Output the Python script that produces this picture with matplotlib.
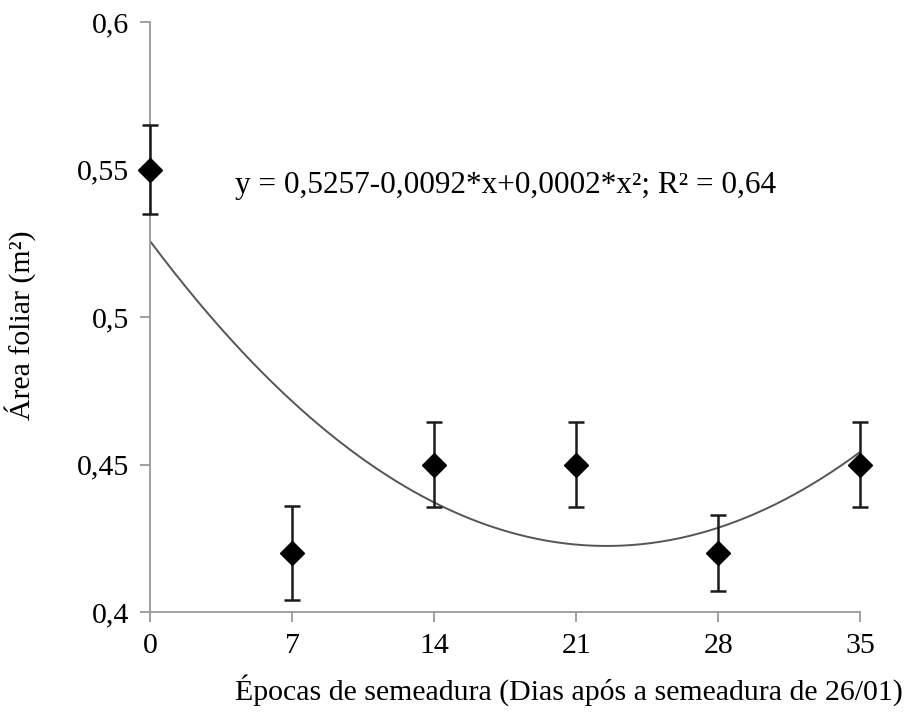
import numpy as np
import matplotlib
matplotlib.use("Agg")
import matplotlib.pyplot as plt

# Data
epocas = [0, 7, 14, 21, 28, 35]
area_foliar = [0.55, 0.42, 0.45, 0.45, 0.42, 0.45]
erro = [0.015, 0.016, 0.0145, 0.0145, 0.013, 0.0143]
y_ticks = [0.4, 0.45, 0.5, 0.55, 0.6]
y_tick_labels = ["0,4", "0,45", "0,5", "0,55", "0,6"]
x_ticks = [0, 7, 14, 21, 28, 35]
equacao = "y = 0,5257-0,0092*x+0,0002*x²; R² = 0,64"

plt.rcParams['font.family'] = ['Liberation Serif', 'DejaVu Serif']

fig = plt.figure(figsize=(9.21, 7.17), dpi=100)
ax = fig.add_axes([0.163, 0.1464, 0.771, 0.8229])

# Trend line from polynomial fit of the data
xs = np.linspace(min(epocas), max(epocas), 300)
fit = np.polyfit(epocas, area_foliar, 2)
ax.plot(xs, np.polyval(fit, xs), color="#555555", lw=1.4, zorder=2)

ax.errorbar(epocas, area_foliar, yerr=erro, fmt='D', color='black', ms=12,
            ecolor='#1a1a1a', elinewidth=1.8, capsize=6, capthick=1.8, zorder=3,
            clip_on=False)

ax.set_xlim(0, 35)
ax.set_ylim(0.4, 0.6)
ax.set_xticks(x_ticks)
ax.set_xticklabels([str(v) for v in x_ticks])
ax.set_yticks(y_ticks)
ax.set_yticklabels(y_tick_labels)

for s in ['top', 'right']:
    ax.spines[s].set_visible(False)
for s in ['left', 'bottom']:
    ax.spines[s].set_color('#999999')
    ax.spines[s].set_linewidth(1.3)
ax.tick_params(axis='both', colors='#999999', labelcolor='black', labelsize=21.5,
               width=1.3, length=7, direction='out')
ax.tick_params(axis='x', pad=8)
ax.tick_params(axis='y', pad=8)

ax.text(4.2, 0.5447, equacao, fontsize=22.5, va='center', ha='left')

ax.set_ylabel("Área foliar (m²)", fontsize=21.5, va='center')
ax.yaxis.set_label_coords(-0.183, 0.486)
ax.set_xlabel("Épocas de semeadura (Dias após a semeadura de 26/01)", fontsize=21.5, va='center')
ax.xaxis.set_label_coords(0.59, -0.132)

fig.savefig("out.png", dpi=100, facecolor='white')
